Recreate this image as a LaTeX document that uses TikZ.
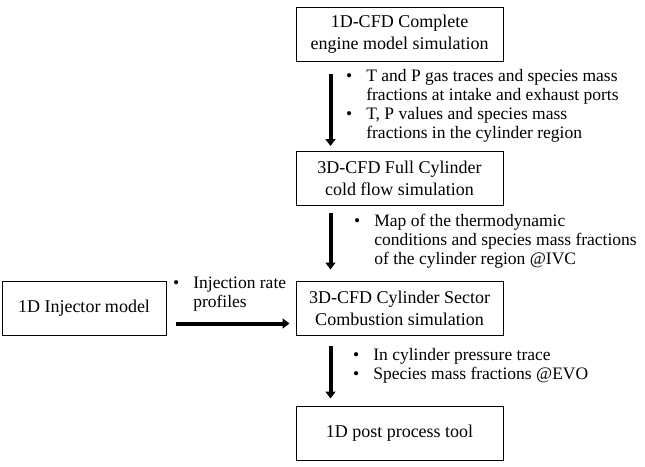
\documentclass[tikz,border=0pt]{standalone}
\usepackage{fontspec}
\setmainfont{Liberation Serif}
\usetikzlibrary{arrows.meta}

\begin{document}
\begin{tikzpicture}[x=1pt, y=-1pt,
        stagebox/.style={draw, line width=1pt, minimum width=207pt, minimum height=54pt,
            inner sep=0pt, align=center, font=\fontsize{18}{22}\selectfont},
        flowarrow/.style={line width=4pt, -{Triangle[width=10pt,length=7pt]}},
        notes/.style={anchor=north west, inner sep=0pt, font=\fontsize{17.5}{19}\selectfont}]
        \useasboundingbox (0,0) rectangle (645,466);

        % Stages of the chain
        \node[stagebox] (cfd1) at (399.5,34) {1D-CFD Complete\\engine model simulation};
        \node[stagebox] (cfd3) at (399.5,178.5) {3D-CFD Full Cylinder\\cold flow simulation};
        \node[stagebox] (sector) at (399.5,308) {3D-CFD Cylinder Sector\\Combustion simulation};
        \node[stagebox] (post) at (399.5,433) {1D post process tool};
        \node[stagebox, minimum width=164pt] (inj) at (84,308) {1D Injector model};

        % Data handed from one stage to the next
        \draw[flowarrow] ([xshift=35pt,yshift=-12pt]cfd1.south west) -- ([xshift=35pt,yshift=5pt]cfd3.north west);
        \draw[flowarrow] ([xshift=35pt,yshift=-7pt]cfd3.south west) -- ([xshift=35pt,yshift=11pt]sector.north west);
        \draw[flowarrow] ([xshift=35pt,yshift=-10pt]sector.south west) -- ([xshift=35pt,yshift=7pt]post.north west);
        \draw[flowarrow] ([xshift=9pt,yshift=12pt]inj.south east) -- ([xshift=-6pt,yshift=12pt]sector.south west);

        % What is handed over
        \node[notes] (note1) at (346,68) {\begin{tabular}{@{}l@{\hspace{14pt}}l@{}}
            \textbullet & T and P gas traces and species mass\\
                        & fractions at intake and exhaust ports\\
            \textbullet & T, P values and species mass\\
                        & fractions in the cylinder region
        \end{tabular}};
        \node[notes] (note2) at (354,213) {\begin{tabular}{@{}l@{\hspace{14pt}}l@{}}
            \textbullet & Map of the thermodynamic\\
                        & conditions and species mass fractions\\
                        & of the cylinder region @IVC
        \end{tabular}};
        \node[notes] (note3) at (353,347) {\begin{tabular}{@{}l@{\hspace{14pt}}l@{}}
            \textbullet & In cylinder pressure trace\\
            \textbullet & Species mass fractions @EVO
        \end{tabular}};
        \node[notes] (note4) at (173,275) {\begin{tabular}{@{}l@{\hspace{14pt}}l@{}}
            \textbullet & Injection rate\\
                        & profiles
        \end{tabular}};
    \end{tikzpicture}
\end{document}
